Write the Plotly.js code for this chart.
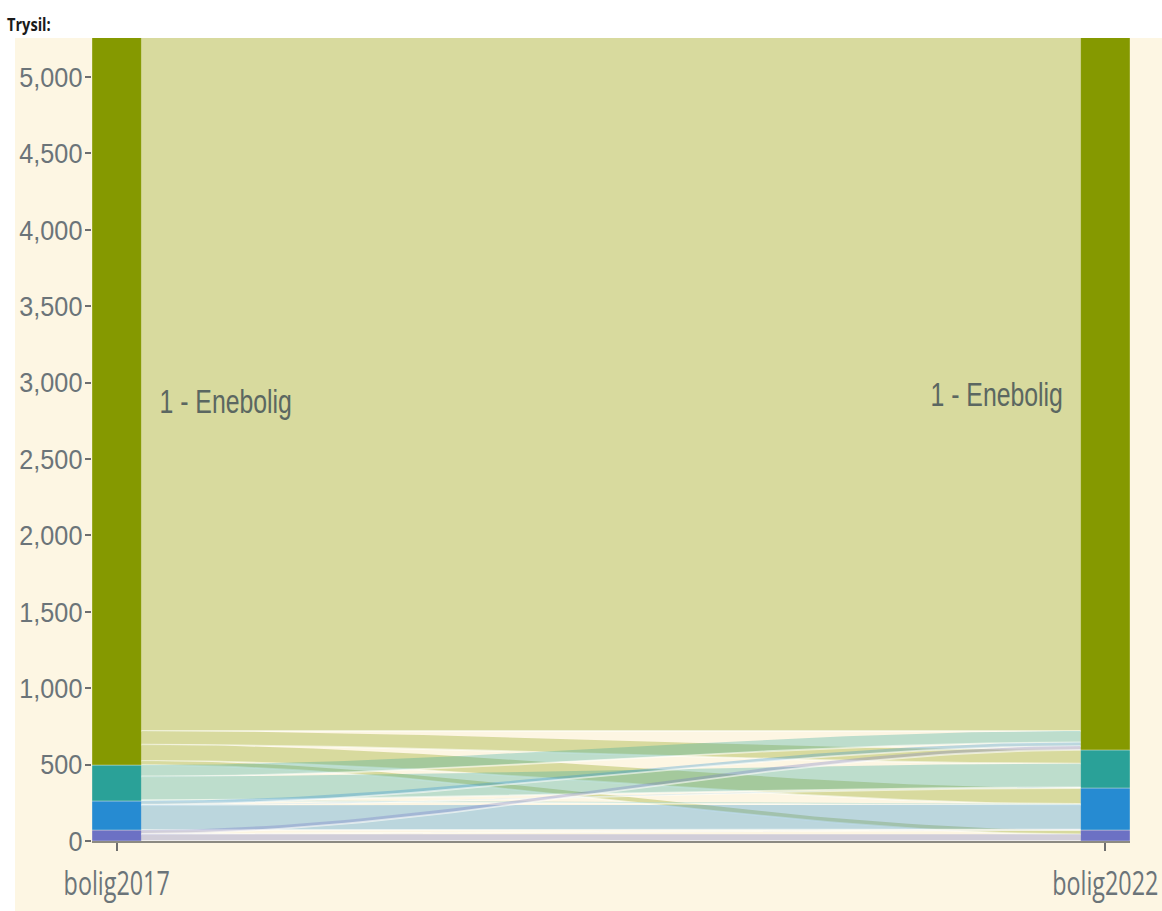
<!DOCTYPE html>
<html>
<head>
<meta charset="utf-8">
<script src="https://cdn.plot.ly/plotly-3.0.1.min.js"></script>
<style>
html,body{margin:0;padding:0;background:#ffffff;}
#plot{width:1162px;height:911px;}
</style>
</head>
<body>
<div id="plot"></div>
<script>
// ---- data ----
const categories = ['1 - Enebolig', '2 - Tomannsbolig', '3 - Rekkehus, kjedehus og andre småhus', '4 - Boligblokk'];
const categoryColors = ['#859900', '#2aa198', '#268bd2', '#6c71c4'];
const axisLabels = ['bolig2017', 'bolig2022'];
const flowFrom  = [0, 0, 0, 0, 1, 1, 1, 2, 2, 2, 3, 3, 3];
const flowTo    = [0, 1, 2, 3, 0, 1, 2, 0, 1, 2, 0, 2, 3];
const flowValue = [4540, 90, 105, 28, 75, 155, 5, 24, 4, 162, 25, 3, 44];
const yTicks = [0, 500, 1000, 1500, 2000, 2500, 3000, 3500, 4000, 4500, 5000];

// ---- derived ----
const nCat = categories.length;
const stratumWidth = 0.05;
const leftTot = new Array(nCat).fill(0), rightTot = new Array(nCat).fill(0);
flowValue.forEach((v, k) => { leftTot[flowFrom[k]] += v; rightTot[flowTo[k]] += v; });
function bottoms(tot) {
  const b = new Array(nCat).fill(0);
  for (let k = 0; k < nCat; k++) { let s = 0; for (let m = k + 1; m < nCat; m++) s += tot[m]; b[k] = s; }
  return b;
}
const leftBottom = bottoms(leftTot), rightBottom = bottoms(rightTot);

function hexToRgba(h, a) {
  const r = parseInt(h.slice(1, 3), 16), g = parseInt(h.slice(3, 5), 16), b = parseInt(h.slice(5, 7), 16);
  return `rgba(${r},${g},${b},${a})`;
}

// flow positions within each stratum
const leftCursor = leftTot.map((t, k) => leftBottom[k] + t);
const rightCursor = rightTot.map((t, k) => rightBottom[k] + t);
const order = flowValue.map((v, k) => k).sort((a, b) => (flowFrom[a] - flowFrom[b]) || (flowTo[a] - flowTo[b]));
const leftPos = {}, rightPos = {};
order.forEach(k => { const i = flowFrom[k]; leftPos[k] = [leftCursor[i], leftCursor[i] - flowValue[k]]; leftCursor[i] -= flowValue[k]; });
const order2 = flowValue.map((v, k) => k).sort((a, b) => (flowTo[a] - flowTo[b]) || (flowFrom[a] - flowFrom[b]));
order2.forEach(k => { const j = flowTo[k]; rightPos[k] = [rightCursor[j], rightCursor[j] - flowValue[k]]; rightCursor[j] -= flowValue[k]; });

const xa = 1 + stratumWidth / 2, xb = 2 - stratumWidth / 2, N = 60;
const smooth = t => t * t * (3 - 2 * t);
const traces = [];
order.forEach(k => {
  const [lt, lb] = leftPos[k], [rt, rb] = rightPos[k];
  const xs = [], ys = [], bx = [], by = [];
  for (let n = 0; n <= N; n++) { const t = n / N; xs.push(xa + (xb - xa) * t); ys.push(lt + (rt - lt) * smooth(t)); }
  for (let n = N; n >= 0; n--) { const t = n / N; const x = xa + (xb - xa) * t, y = lb + (rb - lb) * smooth(t); xs.push(x); ys.push(y); bx.push(x); by.push(y); }
  xs.push(xs[0]); ys.push(ys[0]);
  traces.push({
    type: 'scatter', mode: 'lines', x: xs, y: ys, fill: 'toself',
    fillcolor: hexToRgba(categoryColors[flowFrom[k]], 0.3),
    line: {width: 0, color: 'rgba(0,0,0,0)'},
    hoverinfo: 'text', text: `${categories[flowFrom[k]]} → ${categories[flowTo[k]]}: ${flowValue[k]}`,
    showlegend: false
  });
  traces.push({
    type: 'scatter', mode: 'lines', x: bx, y: by,
    line: {width: 1.8, color: 'rgba(255,255,250,0.6)'},
    hoverinfo: 'skip', showlegend: false
  });
});

// strata bars (bottom category first)
for (let k = nCat - 1; k >= 0; k--) {
  traces.push({
    type: 'bar', x: [1, 2], y: [leftTot[k], rightTot[k]], base: [leftBottom[k], rightBottom[k]],
    width: stratumWidth, name: categories[k],
    marker: {color: categoryColors[k], line: {color: 'rgba(253,246,227,0.35)', width: 1}},
    hovertemplate: categories[k] + ': %{y}<extra></extra>', showlegend: false
  });
}

const labelFont = {family: 'Liberation Sans, Arial, sans-serif', size: 34, color: '#5b6761'};
const annotations = [
  {x: 1.1103, y: leftBottom[0] + leftTot[0] / 2, xref: 'x', yref: 'y', text: categories[0], showarrow: false, xanchor: 'center', yanchor: 'middle', font: labelFont},
  {x: 1.8902, y: rightBottom[0] + rightTot[0] / 2, xref: 'x', yref: 'y', text: categories[0], showarrow: false, xanchor: 'center', yanchor: 'middle', font: labelFont}
];

const layout = {
  width: 1162, height: 911,
  margin: {l: 92, r: 32, t: 38, b: 70},
  paper_bgcolor: '#ffffff',
  plot_bgcolor: '#fdf6e3',
  barmode: 'overlay',
  showlegend: false,
  title: {
    text: '<b>Trysil:</b>', xref: 'container', yref: 'container', x: 0.006, xanchor: 'left', y: 0.973, yanchor: 'middle',
    font: {family: 'Open Sans, sans-serif', size: 17, color: '#1a1a1a'}
  },
  shapes: [{
    type: 'rect', xref: 'paper', yref: 'paper', x0: -0.0742, x1: 1.031, y0: -0.0872, y1: 1,
    fillcolor: '#fdf6e3', line: {width: 0}, layer: 'below'
  }],
  xaxis: {
    range: [1 - stratumWidth / 2, 2 + stratumWidth / 2], tickvals: [1, 2], ticktext: axisLabels,
    showgrid: false, zeroline: false, showline: true, linecolor: '#8c8a82', linewidth: 2,
    ticks: 'outside', ticklen: 8, tickwidth: 1.5, tickcolor: '#6e6e6e', ticklabelstandoff: 6,
    ticklabeloverflow: 'allow',
    tickfont: {family: 'Open Sans, sans-serif', size: 32, color: '#6b7479'},
    fixedrange: true
  },
  yaxis: {
    range: [0, 5255], tickvals: yTicks, tickformat: ',d',
    showgrid: false, zeroline: false, showline: false,
    ticks: 'outside', ticklen: 6, tickwidth: 1.5, tickcolor: '#6e6e6e', ticklabelstandoff: -3,
    tickfont: {family: 'Liberation Sans, Arial, sans-serif', size: 28, color: '#6b7479'},
    fixedrange: true
  },
  annotations: annotations
};

// the reference uses horizontally condensed lettering: wrap texts in a horizontally scaled group
function squeeze(el, factor, anchor) {
  const ns = 'http://www.w3.org/2000/svg';
  const g = document.createElementNS(ns, 'g');
  el.parentNode.insertBefore(g, el);
  g.appendChild(el);
  const bb = g.getBBox();
  if (bb.width <= 0) return;
  const ax = anchor === 'start' ? bb.x : anchor === 'end' ? bb.x + bb.width : bb.x + bb.width / 2;
  g.setAttribute('transform', `translate(${ax},0) scale(${factor},1) translate(${-ax},0)`);
}

Plotly.newPlot('plot', traces, layout, {displayModeBar: false}).then(gd => {
  gd.querySelectorAll('.xtick text').forEach(t => squeeze(t, 0.73, 'middle'));
  gd.querySelectorAll('.ytick text').forEach(t => squeeze(t, 0.9, 'end'));
  gd.querySelectorAll('.annotation-text').forEach(t => squeeze(t, 0.73, 'middle'));
  gd.querySelectorAll('.gtitle').forEach(t => squeeze(t, 0.86, 'start'));
});
</script>
</body>
</html>
